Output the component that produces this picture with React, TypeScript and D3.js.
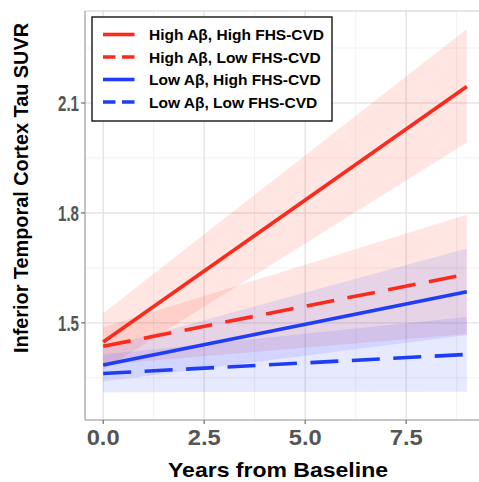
import React from "react";
import * as d3 from "d3";

// Model-predicted trajectories (years 0 and 9) with 95% confidence bands
const years = [0, 9];
const groups = [
  "High Aβ, High FHS-CVD",
  "High Aβ, Low FHS-CVD",
  "Low Aβ, High FHS-CVD",
  "Low Aβ, Low FHS-CVD",
];
const fitHighHigh = [1.448, 2.145];
const lowerHighHigh = [1.372, 1.992];
const upperHighHigh = [1.526, 2.302];
const fitHighLow = [1.436, 1.633];
const lowerHighLow = [1.386, 1.47];
const upperHighLow = [1.488, 1.795];
const fitLowHigh = [1.385, 1.585];
const lowerLowHigh = [1.34, 1.467];
const upperLowHigh = [1.432, 1.703];
const fitLowLow = [1.362, 1.414];
const lowerLowLow = [1.311, 1.312];
const upperLowLow = [1.414, 1.516];

const xTicks = [0, 2.5, 5, 7.5];
const xMinor = [1.25, 3.75, 6.25, 8.75];
const yTicks = [1.5, 1.8, 2.1];
const yMinor = [1.35, 1.65, 1.95, 2.25];

const RED = "#fa2a1c";
const BLUE = "#1f3cf6";

const series = [
  { name: groups[0], fit: fitHighHigh, lo: lowerHighHigh, hi: upperHighHigh, color: RED, dashed: false },
  { name: groups[1], fit: fitHighLow, lo: lowerHighLow, hi: upperHighLow, color: RED, dashed: true },
  { name: groups[2], fit: fitLowHigh, lo: lowerLowHigh, hi: upperLowHigh, color: BLUE, dashed: false },
  { name: groups[3], fit: fitLowLow, lo: lowerLowLow, hi: upperLowLow, color: BLUE, dashed: true },
];

const W = 479;
const H = 482;
const panel = { left: 85, right: 485, top: 11, bottom: 420 };

export default function App() {
  const x = d3.scaleLinear().domain([-0.45, 9.45]).range([panel.left, panel.right]);
  const y = d3.scaleLinear().domain([1.235, 2.351]).range([panel.bottom, panel.top]);

  const band = (lo: number[], hi: number[]) =>
    d3
      .area<number>()
      .x((d) => x(d))
      .y0((_, i) => y(lo[i]))
      .y1((_, i) => y(hi[i]))(years) || "";

  const line = (v: number[]) =>
    d3
      .line<number>()
      .x((d) => x(d))
      .y((_, i) => y(v[i]))(years) || "";

  const gridMajor = "#e4e4e4";
  const gridMinor = "#f1f1f1";
  const tickColor = "#555555";
  const font = "'Liberation Sans', Arial, Helvetica, sans-serif";

  const legendX = 92;
  const legendY = 17;
  const legendW = 240;
  const legendH = 104;
  const rowY = [34.5, 57, 79.5, 102];

  return (
    <svg
      width={W}
      height={H}
      style={{ position: "absolute", left: 0, top: 0, background: "#ffffff" }}
      fontFamily={font}
    >
      <rect x={0} y={0} width={W} height={H} fill="#ffffff" />
      <g>
        {xMinor.map((t) => (
          <line key={"xm" + t} x1={x(t)} x2={x(t)} y1={panel.top} y2={panel.bottom} stroke={gridMinor} strokeWidth={1} />
        ))}
        {yMinor.map((t) => (
          <line key={"ym" + t} x1={panel.left} x2={panel.right} y1={y(t)} y2={y(t)} stroke={gridMinor} strokeWidth={1} />
        ))}
        {xTicks.map((t) => (
          <line key={"xg" + t} x1={x(t)} x2={x(t)} y1={panel.top} y2={panel.bottom} stroke={gridMajor} strokeWidth={1.4} />
        ))}
        {yTicks.map((t) => (
          <line key={"yg" + t} x1={panel.left} x2={panel.right} y1={y(t)} y2={y(t)} stroke={gridMajor} strokeWidth={1.4} />
        ))}
      </g>
      <g>
        {series.map((s) => (
          <path
            key={"band" + s.name}
            d={band(s.lo, s.hi)}
            fill={s.color === RED ? "#ff3a2a" : "#3a4cff"}
            fillOpacity={s.color === RED ? 0.13 : 0.12}
          />
        ))}
      </g>
      <g>
        {series.map((s) => (
          <path
            key={"line" + s.name}
            d={line(s.fit)}
            fill="none"
            stroke={s.color}
            strokeWidth={3.6}
            strokeDasharray={s.dashed ? "28 13.5" : undefined}
          />
        ))}
      </g>
      {/* panel frame and axes */}
      <line x1={panel.left} x2={panel.right} y1={panel.top} y2={panel.top} stroke="#cfcfcf" strokeWidth={1.2} />
      <line x1={panel.left} x2={panel.left} y1={panel.top} y2={panel.bottom} stroke="#b3b3b3" strokeWidth={1.6} />
      <line x1={panel.left} x2={panel.right} y1={panel.bottom} y2={panel.bottom} stroke="#b3b3b3" strokeWidth={1.6} />
      <g>
        {yTicks.map((t) => (
          <g key={"yt" + t}>
            <line x1={panel.left - 4} x2={panel.left} y1={y(t)} y2={y(t)} stroke="#777" strokeWidth={1.3} />
            <text
              x={panel.left - 6}
              y={y(t)}
              dy="0.36em"
              textAnchor="end"
              fontSize={22}
              fontWeight="bold"
              fill={tickColor}
              textLength={21}
              lengthAdjust="spacingAndGlyphs"
            >
              {d3.format(".1f")(t)}
            </text>
          </g>
        ))}
        {xTicks.map((t) => (
          <g key={"xt" + t}>
            <line x1={x(t)} x2={x(t)} y1={panel.bottom} y2={panel.bottom + 4} stroke="#777" strokeWidth={1.3} />
            <text
              x={x(t)}
              y={445}
              textAnchor="middle"
              fontSize={22}
              fontWeight="bold"
              fill={tickColor}
              textLength={33}
              lengthAdjust="spacingAndGlyphs"
            >
              {d3.format(".1f")(t)}
            </text>
          </g>
        ))}
      </g>
      <text
        x={278}
        y={477}
        textAnchor="middle"
        fontSize={20.5}
        fontWeight="bold"
        fill="#000"
        textLength={220}
        lengthAdjust="spacingAndGlyphs"
      >
        Years from Baseline
      </text>
      <text
        transform={`translate(27.5,188) rotate(-90)`}
        textAnchor="middle"
        fontSize={20}
        fontWeight="bold"
        fill="#000"
        textLength={330}
        lengthAdjust="spacingAndGlyphs"
      >
        Inferior Temporal Cortex Tau SUVR
      </text>
      <g>
        <rect x={legendX} y={legendY} width={legendW} height={legendH} fill="#ffffff" stroke="#000" strokeWidth={1.3} />
        {series.map((s, i) => (
          <g key={"lg" + s.name}>
            <line
              x1={103}
              x2={134.5}
              y1={rowY[i]}
              y2={rowY[i]}
              stroke={s.color}
              strokeWidth={3.6}
              strokeDasharray={s.dashed ? "12.5 6.5" : undefined}
            />
            <text x={149} y={rowY[i]} dy="0.36em" fontSize={15.5} fontWeight="bold" fill="#000">
              {s.name}
            </text>
          </g>
        ))}
      </g>
    </svg>
  );
}
